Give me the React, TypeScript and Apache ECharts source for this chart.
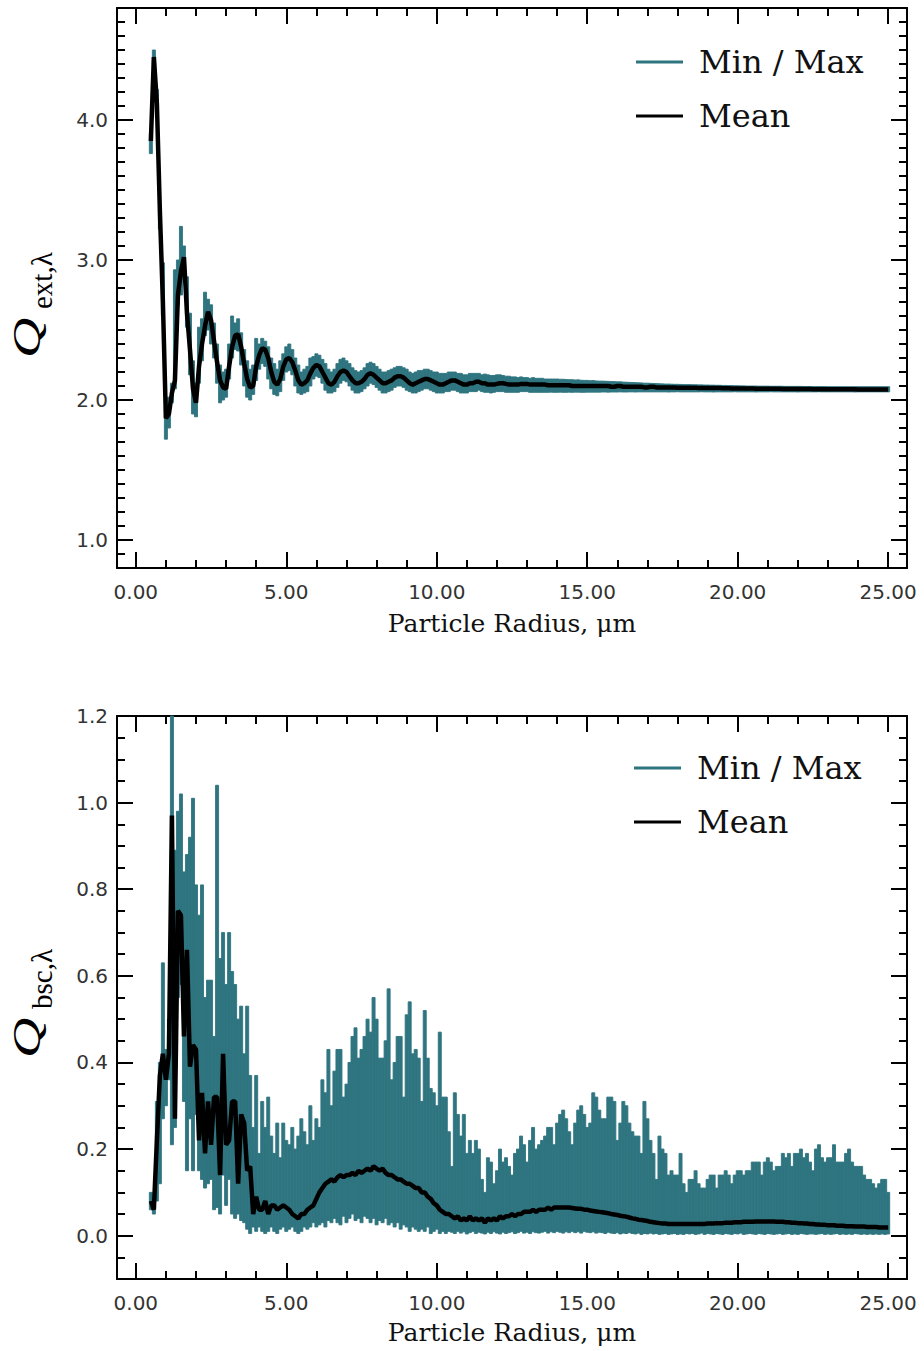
import React, { useEffect, useRef } from "react";
import * as echarts from "echarts";

// ---------------- data ----------------
const RADIUS = [
  0.5, 0.6, 0.7, 0.8, 0.9, 1.0, 1.1, 1.2, 1.3, 1.4,
  1.5, 1.6, 1.7, 1.8, 1.9, 2.0, 2.1, 2.2, 2.3, 2.4,
  2.5, 2.6, 2.7, 2.8, 2.9, 3.0, 3.1, 3.2, 3.3, 3.4,
  3.5, 3.6, 3.7, 3.8, 3.9, 4.0, 4.1, 4.2, 4.3, 4.4,
  4.5, 4.6, 4.7, 4.8, 4.9, 5.0, 5.1, 5.2, 5.3, 5.4,
  5.5, 5.6, 5.7, 5.8, 5.9, 6.0, 6.1, 6.2, 6.3, 6.4,
  6.5, 6.6, 6.7, 6.8, 6.9, 7.0, 7.1, 7.2, 7.3, 7.4,
  7.5, 7.6, 7.7, 7.8, 7.9, 8.0, 8.1, 8.2, 8.3, 8.4,
  8.5, 8.6, 8.7, 8.8, 8.9, 9.0, 9.1, 9.2, 9.3, 9.4,
  9.5, 9.6, 9.7, 9.8, 9.9, 10.0, 10.1, 10.2, 10.3, 10.4,
  10.5, 10.6, 10.7, 10.8, 10.9, 11.0, 11.1, 11.2, 11.3, 11.4,
  11.5, 11.6, 11.7, 11.8, 11.9, 12.0, 12.1, 12.2, 12.3, 12.4,
  12.5, 12.6, 12.7, 12.8, 12.9, 13.0, 13.1, 13.2, 13.3, 13.4,
  13.5, 13.6, 13.7, 13.8, 13.9, 14.0, 14.1, 14.2, 14.3, 14.4,
  14.5, 14.6, 14.7, 14.8, 14.9, 15.0, 15.1, 15.2, 15.3, 15.4,
  15.5, 15.6, 15.7, 15.8, 15.9, 16.0, 16.1, 16.2, 16.3, 16.4,
  16.5, 16.6, 16.7, 16.8, 16.9, 17.0, 17.1, 17.2, 17.3, 17.4,
  17.5, 17.6, 17.7, 17.8, 17.9, 18.0, 18.1, 18.2, 18.3, 18.4,
  18.5, 18.6, 18.7, 18.8, 18.9, 19.0, 19.1, 19.2, 19.3, 19.4,
  19.5, 19.6, 19.7, 19.8, 19.9, 20.0, 20.1, 20.2, 20.3, 20.4,
  20.5, 20.6, 20.7, 20.8, 20.9, 21.0, 21.1, 21.2, 21.3, 21.4,
  21.5, 21.6, 21.7, 21.8, 21.9, 22.0, 22.1, 22.2, 22.3, 22.4,
  22.5, 22.6, 22.7, 22.8, 22.9, 23.0, 23.1, 23.2, 23.3, 23.4,
  23.5, 23.6, 23.7, 23.8, 23.9, 24.0, 24.1, 24.2, 24.3, 24.4,
  24.5, 24.6, 24.7, 24.8, 24.9, 25.0,
];

const QEXT_MEAN = [
  3.85, 4.45, 4.12, 3.35, 2.70, 1.87, 1.90, 2.05, 2.14, 2.75,
  2.92, 3.02, 2.62, 2.36, 2.08, 1.98, 2.24, 2.40, 2.53, 2.63,
  2.57, 2.42, 2.27, 2.14, 2.09, 2.08, 2.24, 2.38, 2.46, 2.47,
  2.38, 2.26, 2.15, 2.09, 2.10, 2.24, 2.32, 2.37, 2.36, 2.30,
  2.20, 2.13, 2.11, 2.15, 2.24, 2.29, 2.30, 2.27, 2.21, 2.14,
  2.11, 2.12, 2.14, 2.19, 2.23, 2.25, 2.24, 2.20, 2.16, 2.12,
  2.11, 2.13, 2.17, 2.20, 2.21, 2.20, 2.17, 2.14, 2.12, 2.12,
  2.13, 2.15, 2.18, 2.19, 2.18, 2.16, 2.14, 2.12, 2.12, 2.13,
  2.14, 2.16, 2.17, 2.17, 2.16, 2.14, 2.12, 2.11, 2.12, 2.13,
  2.14, 2.15, 2.15, 2.14, 2.13, 2.12, 2.11, 2.11, 2.12, 2.13,
  2.14, 2.14, 2.13, 2.12, 2.11, 2.11, 2.12, 2.12, 2.13, 2.13,
  2.12, 2.12, 2.11, 2.11, 2.11, 2.115, 2.12, 2.12, 2.115, 2.11,
  2.11, 2.11, 2.11, 2.115, 2.115, 2.115, 2.11, 2.11, 2.11, 2.11,
  2.11, 2.11, 2.105, 2.105, 2.105, 2.105, 2.105, 2.105, 2.105, 2.105,
  2.10, 2.10, 2.10, 2.10, 2.10, 2.10, 2.10, 2.10, 2.10, 2.10,
  2.10, 2.10, 2.10, 2.095, 2.095, 2.10, 2.10, 2.095, 2.095, 2.095,
  2.095, 2.095, 2.095, 2.095, 2.09, 2.09, 2.095, 2.095, 2.09, 2.09,
  2.09, 2.09, 2.09, 2.09, 2.09, 2.088, 2.088, 2.088, 2.088, 2.088,
  2.087, 2.087, 2.086, 2.086, 2.086, 2.086, 2.085, 2.085, 2.085, 2.085,
  2.084, 2.084, 2.084, 2.083, 2.083, 2.083, 2.083, 2.082, 2.082, 2.082,
  2.082, 2.081, 2.081, 2.081, 2.081, 2.08, 2.08, 2.08, 2.08, 2.08,
  2.079, 2.079, 2.079, 2.079, 2.078, 2.078, 2.078, 2.078, 2.078, 2.078,
  2.077, 2.077, 2.077, 2.077, 2.077, 2.077, 2.077, 2.076, 2.076, 2.076,
  2.076, 2.076, 2.076, 2.076, 2.076, 2.075, 2.075, 2.075, 2.075, 2.075,
  2.075, 2.075, 2.075, 2.075, 2.075, 2.075,
];

const QEXT_MAX = [
  3.90, 4.50, 4.22, 3.36, 2.98, 1.96, 2.02, 2.12, 2.93, 3.00,
  3.24, 3.10, 2.88, 2.62, 2.28, 2.12, 2.52, 2.58, 2.77, 2.72,
  2.68, 2.55, 2.40, 2.25, 2.20, 2.22, 2.40, 2.60, 2.55, 2.58,
  2.48, 2.36, 2.28, 2.22, 2.25, 2.44, 2.40, 2.44, 2.42, 2.38,
  2.30, 2.26, 2.22, 2.28, 2.33, 2.38, 2.40, 2.36, 2.30, 2.25,
  2.20, 2.22, 2.24, 2.30, 2.31, 2.33, 2.32, 2.29, 2.26, 2.22,
  2.20, 2.22, 2.26, 2.29, 2.30, 2.28, 2.26, 2.23, 2.21, 2.20,
  2.21, 2.23, 2.26, 2.27, 2.26, 2.24, 2.22, 2.20, 2.20, 2.21,
  2.22, 2.23, 2.24, 2.24, 2.23, 2.22, 2.20, 2.19, 2.20, 2.21,
  2.21, 2.22, 2.22, 2.21, 2.20, 2.20, 2.19, 2.19, 2.19, 2.20,
  2.20, 2.20, 2.19, 2.19, 2.18, 2.18, 2.19, 2.19, 2.19, 2.19,
  2.18, 2.185, 2.18, 2.175, 2.175, 2.18, 2.18, 2.175, 2.17, 2.17,
  2.165, 2.165, 2.16, 2.165, 2.16, 2.16, 2.155, 2.16, 2.155, 2.155,
  2.155, 2.15, 2.15, 2.15, 2.15, 2.15, 2.148, 2.148, 2.146, 2.145,
  2.145, 2.143, 2.144, 2.141, 2.14, 2.14, 2.138, 2.139, 2.136, 2.135,
  2.135, 2.134, 2.133, 2.132, 2.131, 2.13, 2.13, 2.128, 2.127, 2.126,
  2.125, 2.124, 2.123, 2.122, 2.12, 2.12, 2.119, 2.118, 2.117, 2.116,
  2.115, 2.114, 2.114, 2.113, 2.112, 2.112, 2.111, 2.11, 2.11, 2.11,
  2.109, 2.109, 2.108, 2.108, 2.107, 2.107, 2.106, 2.106, 2.105, 2.105,
  2.104, 2.104, 2.103, 2.103, 2.102, 2.102, 2.101, 2.101, 2.1, 2.1,
  2.1, 2.1, 2.099, 2.099, 2.099, 2.099, 2.098, 2.098, 2.098, 2.098,
  2.098, 2.097, 2.097, 2.097, 2.097, 2.097, 2.097, 2.096, 2.096, 2.096,
  2.096, 2.096, 2.096, 2.096, 2.096, 2.095, 2.095, 2.095, 2.095, 2.095,
  2.095, 2.095, 2.095, 2.095, 2.095, 2.095, 2.095, 2.095, 2.095, 2.095,
  2.095, 2.095, 2.095, 2.095, 2.095, 2.095,
];

const QEXT_MIN = [
  3.76, 4.38, 4.02, 3.22, 2.60, 1.72, 1.80, 1.98, 2.08, 2.68,
  2.75, 2.85, 2.52, 2.18, 1.90, 1.88, 2.12, 2.28, 2.46, 2.50,
  2.40, 2.30, 2.12, 1.98, 2.00, 2.02, 2.15, 2.30, 2.36, 2.35,
  2.25, 2.10, 2.02, 2.00, 2.04, 2.14, 2.22, 2.26, 2.24, 2.15,
  2.08, 2.04, 2.03, 2.06, 2.14, 2.20, 2.21, 2.18, 2.10, 2.05,
  2.04, 2.05, 2.06, 2.10, 2.15, 2.17, 2.16, 2.12, 2.07, 2.05,
  2.05, 2.06, 2.09, 2.12, 2.14, 2.13, 2.10, 2.07, 2.05, 2.05,
  2.06, 2.08, 2.10, 2.12, 2.11, 2.09, 2.07, 2.05, 2.05, 2.06,
  2.07, 2.09, 2.10, 2.10, 2.09, 2.07, 2.06, 2.05, 2.05, 2.06,
  2.07, 2.08, 2.08, 2.07, 2.06, 2.05, 2.05, 2.05, 2.06, 2.06,
  2.07, 2.07, 2.06, 2.05, 2.05, 2.05, 2.06, 2.06, 2.06, 2.07,
  2.06, 2.055, 2.055, 2.05, 2.055, 2.06, 2.06, 2.06, 2.055, 2.055,
  2.055, 2.055, 2.055, 2.06, 2.06, 2.06, 2.055, 2.055, 2.055, 2.055,
  2.055, 2.055, 2.055, 2.056, 2.055, 2.055, 2.056, 2.055, 2.055, 2.056,
  2.055, 2.056, 2.056, 2.055, 2.055, 2.056, 2.056, 2.056, 2.056, 2.056,
  2.057, 2.057, 2.056, 2.057, 2.057, 2.057, 2.058, 2.057, 2.057, 2.058,
  2.058, 2.057, 2.058, 2.058, 2.058, 2.058, 2.058, 2.058, 2.058, 2.058,
  2.058, 2.058, 2.057, 2.058, 2.058, 2.059, 2.058, 2.058, 2.058, 2.058,
  2.058, 2.058, 2.058, 2.059, 2.058, 2.058, 2.058, 2.057, 2.058, 2.058,
  2.058, 2.058, 2.058, 2.058, 2.059, 2.058, 2.058, 2.058, 2.058, 2.058,
  2.058, 2.057, 2.058, 2.058, 2.058, 2.058, 2.059, 2.058, 2.058, 2.058,
  2.058, 2.058, 2.058, 2.058, 2.058, 2.057, 2.058, 2.058, 2.058, 2.058,
  2.058, 2.058, 2.059, 2.058, 2.058, 2.058, 2.058, 2.058, 2.058, 2.058,
  2.058, 2.058, 2.058, 2.058, 2.057, 2.058, 2.058, 2.058, 2.058, 2.058,
  2.058, 2.058, 2.058, 2.058, 2.058, 2.058,
];

const QBSC_MEAN = [
  0.08, 0.06, 0.22, 0.37, 0.42, 0.36, 0.42, 0.97, 0.27, 0.75,
  0.74, 0.46, 0.66, 0.39, 0.44, 0.43, 0.22, 0.33, 0.19, 0.31,
  0.21, 0.32, 0.32, 0.14, 0.42, 0.21, 0.22, 0.31, 0.31, 0.12,
  0.28, 0.26, 0.15, 0.16, 0.05, 0.09, 0.06, 0.06, 0.08, 0.05,
  0.07, 0.07, 0.06, 0.065, 0.07, 0.065, 0.06, 0.05, 0.045, 0.04,
  0.05, 0.05, 0.06, 0.065, 0.07, 0.085, 0.10, 0.11, 0.12, 0.125,
  0.13, 0.125, 0.135, 0.14, 0.135, 0.14, 0.14, 0.145, 0.14, 0.15,
  0.145, 0.15, 0.155, 0.15, 0.16, 0.155, 0.15, 0.155, 0.145, 0.14,
  0.14, 0.135, 0.13, 0.13, 0.125, 0.12, 0.12, 0.115, 0.11, 0.11,
  0.10, 0.10, 0.09, 0.085, 0.075, 0.07, 0.06, 0.055, 0.05, 0.05,
  0.045, 0.04, 0.045, 0.035, 0.04, 0.035, 0.045, 0.035, 0.04, 0.035,
  0.04, 0.03, 0.04, 0.035, 0.04, 0.035, 0.045, 0.04, 0.045, 0.045,
  0.05, 0.045, 0.05, 0.05, 0.055, 0.055, 0.055, 0.06, 0.055, 0.06,
  0.06, 0.06, 0.065, 0.06, 0.065, 0.065, 0.065, 0.065, 0.065, 0.065,
  0.064, 0.063, 0.062, 0.062, 0.06, 0.06, 0.058, 0.057, 0.056, 0.055,
  0.054, 0.053, 0.052, 0.05, 0.049, 0.048, 0.046, 0.045, 0.044, 0.042,
  0.04, 0.039, 0.037, 0.036, 0.035, 0.034, 0.032, 0.031, 0.03, 0.029,
  0.028, 0.028, 0.027, 0.027, 0.027, 0.027, 0.027, 0.027, 0.027, 0.027,
  0.027, 0.027, 0.027, 0.027, 0.027, 0.028, 0.028, 0.028, 0.029, 0.029,
  0.029, 0.03, 0.03, 0.03, 0.031, 0.031, 0.031, 0.032, 0.032, 0.032,
  0.032, 0.033, 0.033, 0.033, 0.033, 0.033, 0.033, 0.033, 0.032, 0.032,
  0.032, 0.031, 0.031, 0.03, 0.03, 0.029, 0.029, 0.028, 0.028, 0.027,
  0.027, 0.026, 0.026, 0.025, 0.025, 0.024, 0.024, 0.024, 0.023, 0.023,
  0.023, 0.022, 0.022, 0.022, 0.021, 0.021, 0.021, 0.021, 0.02, 0.02,
  0.02, 0.02, 0.019, 0.019, 0.019, 0.019,
];

const QBSC_MAX = [
  0.10, 0.09, 0.31, 0.40, 0.63, 0.43, 0.50, 1.20, 0.89, 0.98,
  1.02, 0.84, 0.88, 0.92, 1.01, 0.81, 0.74, 0.81, 0.55, 0.59,
  0.59, 0.46, 1.04, 0.64, 0.70, 0.58, 0.70, 0.61, 0.58, 0.50,
  0.53, 0.42, 0.53, 0.37, 0.25, 0.37, 0.19, 0.31, 0.25, 0.32,
  0.23, 0.19, 0.26, 0.18, 0.26, 0.22, 0.21, 0.25, 0.20, 0.23,
  0.27, 0.24, 0.21, 0.30, 0.22, 0.27, 0.25, 0.36, 0.33, 0.43,
  0.30, 0.38, 0.43, 0.43, 0.32, 0.35, 0.40, 0.46, 0.48, 0.41,
  0.43, 0.46, 0.50, 0.47, 0.55, 0.50, 0.41, 0.41, 0.45, 0.57,
  0.36, 0.40, 0.46, 0.46, 0.32, 0.51, 0.54, 0.42, 0.43, 0.41,
  0.31, 0.52, 0.41, 0.34, 0.33, 0.30, 0.47, 0.32, 0.32, 0.24,
  0.16, 0.33, 0.28, 0.23, 0.28, 0.19, 0.22, 0.19, 0.22, 0.20,
  0.13, 0.10, 0.18, 0.17, 0.12, 0.15, 0.20, 0.17, 0.18, 0.16,
  0.14, 0.19, 0.20, 0.23, 0.21, 0.17, 0.22, 0.25, 0.20, 0.21,
  0.22, 0.23, 0.25, 0.25, 0.21, 0.26, 0.28, 0.29, 0.27, 0.24,
  0.21, 0.26, 0.29, 0.30, 0.28, 0.25, 0.26, 0.33, 0.32, 0.29,
  0.27, 0.27, 0.32, 0.32, 0.31, 0.22, 0.26, 0.31, 0.30, 0.26,
  0.24, 0.23, 0.23, 0.19, 0.31, 0.27, 0.22, 0.19, 0.13, 0.23,
  0.20, 0.19, 0.14, 0.15, 0.14, 0.14, 0.19, 0.12, 0.10, 0.13,
  0.13, 0.15, 0.12, 0.11, 0.11, 0.13, 0.14, 0.14, 0.11, 0.14,
  0.14, 0.15, 0.14, 0.12, 0.14, 0.15, 0.15, 0.14, 0.15, 0.15,
  0.17, 0.17, 0.17, 0.14, 0.17, 0.18, 0.17, 0.15, 0.16, 0.16,
  0.19, 0.18, 0.19, 0.16, 0.19, 0.19, 0.20, 0.18, 0.19, 0.17,
  0.15, 0.20, 0.21, 0.18, 0.17, 0.18, 0.18, 0.21, 0.17, 0.17,
  0.17, 0.19, 0.20, 0.17, 0.16, 0.16, 0.16, 0.14, 0.13, 0.13,
  0.12, 0.11, 0.12, 0.13, 0.13, 0.10,
];

const QBSC_MIN = [
  0.06, 0.05, 0.08, 0.12, 0.27, 0.30, 0.36, 0.21, 0.25, 0.55,
  0.58, 0.31, 0.15, 0.27, 0.15, 0.28, 0.15, 0.13, 0.11, 0.12,
  0.13, 0.06, 0.065, 0.05, 0.14, 0.07, 0.13, 0.05, 0.04, 0.05,
  0.035, 0.03, 0.015, 0.005, 0.02, 0.01, 0.02, 0.01, 0.005, 0.01,
  0.02, 0.01, 0.005, 0.015, 0.02, 0.01, 0.015, 0.02, 0.01, 0.005,
  0.01, 0.02, 0.015, 0.02, 0.03, 0.02, 0.025, 0.03, 0.02, 0.035,
  0.03, 0.04, 0.03, 0.025, 0.045, 0.03, 0.04, 0.05, 0.035, 0.04,
  0.03, 0.045, 0.04, 0.03, 0.04, 0.025, 0.035, 0.03, 0.04, 0.025,
  0.03, 0.02, 0.03, 0.015, 0.025, 0.02, 0.01, 0.02, 0.015, 0.01,
  0.015, 0.01, 0.02, 0.005, 0.01, 0.015, 0.005, 0.01, 0.005, 0.01,
  0.008, 0.005, 0.01, 0.006, 0.009, 0.004, 0.007, 0.01, 0.005, 0.008,
  0.006, 0.004, 0.008, 0.005, 0.009, 0.006, 0.004, 0.008, 0.005, 0.007,
  0.009, 0.005, 0.007, 0.01, 0.006, 0.008, 0.005, 0.009, 0.007, 0.006,
  0.008, 0.01, 0.006, 0.009, 0.007, 0.01, 0.008, 0.006, 0.009, 0.007,
  0.01, 0.007, 0.009, 0.006, 0.01, 0.008, 0.007, 0.009, 0.006, 0.008,
  0.007, 0.005, 0.008, 0.006, 0.005, 0.007, 0.004, 0.006, 0.005, 0.007,
  0.005, 0.004, 0.006, 0.003, 0.005, 0.004, 0.006, 0.004, 0.005, 0.003,
  0.004, 0.005, 0.003, 0.004, 0.005, 0.003, 0.004, 0.003, 0.005, 0.004,
  0.005, 0.003, 0.004, 0.006, 0.003, 0.005, 0.004, 0.003, 0.005, 0.004,
  0.003, 0.005, 0.004, 0.003, 0.005, 0.004, 0.006, 0.003, 0.004, 0.005,
  0.004, 0.003, 0.005, 0.004, 0.003, 0.005, 0.004, 0.003, 0.004, 0.005,
  0.003, 0.004, 0.005, 0.003, 0.004, 0.003, 0.005, 0.004, 0.003, 0.004,
  0.004, 0.003, 0.004, 0.005, 0.003, 0.004, 0.003, 0.004, 0.005, 0.003,
  0.004, 0.003, 0.004, 0.003, 0.005, 0.004, 0.003, 0.004, 0.003, 0.004,
  0.003, 0.004, 0.003, 0.004, 0.003, 0.004,
];

// axis ranges and tick-label steps
const X_RANGE = [-0.625, 25.625];
const QEXT_RANGE = [0.8, 4.8];
const QBSC_RANGE = [-0.1, 1.2];
const X_LABEL_STEP = 5;
const QEXT_LABEL_STEP = 1;
const QBSC_LABEL_STEP = 0.2;

const X_TITLE = "Particle Radius, μm";
const LEGEND_LABELS = ["Min / Max", "Mean"];

// ---------------- styling ----------------
const TEAL = "#2f7580";
const BAR_HALF_WIDTH = 0.05;
const TICK_LINE = { color: "#000", width: 2 };
const TICK_FONT = { fontFamily: "DejaVu Sans", fontSize: 20, color: "#333" };

const onStep = (v: number, step: number) =>
  Math.abs(v / step - Math.round(v / step)) < 1e-6;

function panelAxes(
  g: number,
  yRange: number[],
  yStep: number,
  yMajorSplit: number,
  yMinorSplit: number,
  xNameGap: number
) {
  const xAxes = [
    { pos: "bottom", major: true },
    { pos: "bottom", major: false },
    { pos: "top", major: true },
    { pos: "top", major: false },
  ].map(({ pos, major }) => {
    const labelled = pos === "bottom" && major;
    return {
      type: "value",
      gridIndex: g,
      position: pos,
      min: X_RANGE[0],
      max: X_RANGE[1],
      splitNumber: major ? 5 : 26,
      axisLine: { show: major, onZero: false, lineStyle: TICK_LINE },
      axisTick: { show: true, inside: true, length: major ? 16 : 8, lineStyle: TICK_LINE },
      splitLine: { show: false },
      axisLabel: labelled
        ? {
            show: true,
            margin: 14,
            ...TICK_FONT,
            formatter: (v: number) => (onStep(v, X_LABEL_STEP) ? v.toFixed(2) : ""),
          }
        : { show: false },
      ...(labelled
        ? {
            name: X_TITLE,
            nameLocation: "middle",
            nameGap: xNameGap,
            nameTextStyle: { fontFamily: "DejaVu Serif", fontSize: 25, color: "#111" },
          }
        : {}),
    };
  });
  const yAxes = [
    { pos: "left", major: true },
    { pos: "left", major: false },
    { pos: "right", major: true },
    { pos: "right", major: false },
  ].map(({ pos, major }) => {
    const labelled = pos === "left" && major;
    return {
      type: "value",
      gridIndex: g,
      position: pos,
      min: yRange[0],
      max: yRange[1],
      splitNumber: major ? yMajorSplit : yMinorSplit,
      axisLine: { show: major, onZero: false, lineStyle: TICK_LINE },
      axisTick: { show: true, inside: true, length: major ? 16 : 8, lineStyle: TICK_LINE },
      splitLine: { show: false },
      axisLabel: labelled
        ? {
            show: true,
            margin: 9,
            ...TICK_FONT,
            formatter: (v: number) => (onStep(v, yStep) ? v.toFixed(1) : ""),
          }
        : { show: false },
    };
  });
  return { xAxes, yAxes };
}

function bandRenderItem(params: any, api: any) {
  const x = api.value(0);
  const lo = api.value(1);
  const hi = api.value(2);
  const a = api.coord([x - BAR_HALF_WIDTH, hi]);
  const b = api.coord([x + BAR_HALF_WIDTH, lo]);
  return {
    type: "rect",
    shape: { x: a[0], y: a[1], width: b[0] - a[0], height: Math.max(b[1] - a[1], 1) },
    style: { fill: TEAL, stroke: TEAL, lineWidth: 0.9 },
  };
}

function legendGraphics(x: number, y: number, gap: number) {
  const colors = [TEAL, "#000"];
  const out: any[] = [];
  LEGEND_LABELS.forEach((label, i) => {
    const yy = y + i * gap;
    out.push({
      type: "line",
      shape: { x1: x, y1: yy, x2: x + 47, y2: yy },
      style: { stroke: colors[i], lineWidth: 3 },
      silent: true,
    });
    out.push({
      type: "text",
      x: x + 63,
      y: yy,
      style: {
        text: label,
        fontFamily: "DejaVu Serif",
        fontSize: 32,
        fill: "#111",
        verticalAlign: "middle",
        align: "left",
      },
      silent: true,
    });
  });
  return out;
}

// rotated y-axis title: italic Q with an upright subscript
function yTitle(cx: number, cy: number, sub: string) {
  return {
    type: "group",
    x: cx,
    y: cy,
    rotation: Math.PI / 2,
    silent: true,
    children: [
      {
        type: "text",
        x: -58,
        y: -5,
        scaleX: 1.4,
        style: {
          text: "Q",
          fontFamily: "Liberation Serif",
          fontStyle: "italic",
          fontSize: 40,
          fill: "#000",
          align: "left",
          verticalAlign: "middle",
        },
      },
      {
        type: "text",
        x: -9,
        y: 10,
        style: {
          text: sub,
          fontFamily: "Liberation Serif",
          fontSize: 29,
          fill: "#000",
          align: "left",
          verticalAlign: "middle",
        },
      },
    ],
  };
}

export default function App() {
  const ref = useRef<HTMLDivElement>(null);

  useEffect(() => {
    if (!ref.current) return;
    const chart = echarts.init(ref.current, undefined, { renderer: "svg" });

    const top = panelAxes(0, QEXT_RANGE, QEXT_LABEL_STEP, 4, 40, 43);
    const bottom = panelAxes(1, QBSC_RANGE, QBSC_LABEL_STEP, 6, 26, 41);

    const option = {
      animation: false,
      backgroundColor: "#fff",
      grid: [
        { left: 117, top: 8, width: 790, height: 560 },
        { left: 117, top: 716, width: 790, height: 563 },
      ],
      xAxis: [...top.xAxes, ...bottom.xAxes],
      yAxis: [...top.yAxes, ...bottom.yAxes],
      series: [
        {
          name: "Min / Max",
          type: "custom",
          xAxisIndex: 0,
          yAxisIndex: 0,
          renderItem: bandRenderItem,
          encode: { x: 0, y: [1, 2] },
          data: RADIUS.map((r, i) => [r, QEXT_MIN[i], QEXT_MAX[i]]),
          z: 2,
          silent: true,
        },
        {
          name: "Mean",
          type: "line",
          xAxisIndex: 0,
          yAxisIndex: 0,
          data: RADIUS.map((r, i) => [r, QEXT_MEAN[i]]),
          showSymbol: false,
          symbol: "none",
          lineStyle: { color: "#000", width: 4.5 },
          z: 3,
          silent: true,
        },
        {
          name: "Min / Max",
          type: "custom",
          xAxisIndex: 4,
          yAxisIndex: 4,
          renderItem: bandRenderItem,
          encode: { x: 0, y: [1, 2] },
          data: RADIUS.map((r, i) => [r, QBSC_MIN[i], QBSC_MAX[i]]),
          z: 2,
          silent: true,
        },
        {
          name: "Mean",
          type: "line",
          xAxisIndex: 4,
          yAxisIndex: 4,
          data: RADIUS.map((r, i) => [r, QBSC_MEAN[i]]),
          showSymbol: false,
          symbol: "none",
          lineStyle: { color: "#000", width: 4.5 },
          z: 3,
          silent: true,
        },
      ],
      graphic: [
        ...legendGraphics(636, 62, 54),
        ...legendGraphics(634, 768, 54),
        yTitle(32, 300, "ext,λ"),
        yTitle(32, 1000, "bsc,λ"),
      ],
    };

    chart.setOption(option as any);
    return () => chart.dispose();
  }, []);

  return (
    <div
      ref={ref}
      style={{ position: "absolute", left: 0, top: 0, width: 924, height: 1351 }}
    />
  );
}
